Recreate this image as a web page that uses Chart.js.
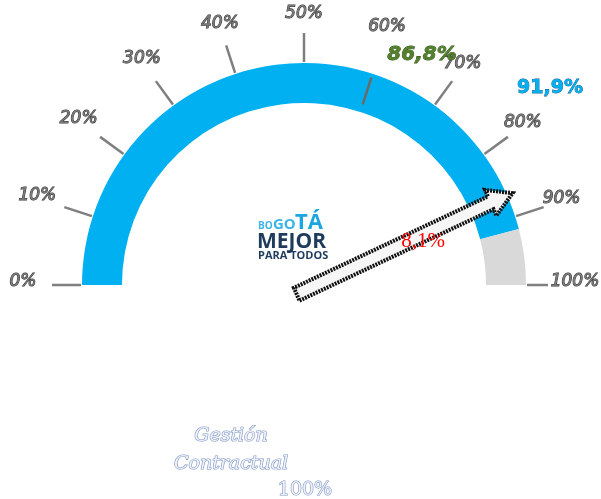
<!DOCTYPE html>
<html><head><meta charset="utf-8">
<script src="https://cdn.jsdelivr.net/npm/chart.js@4/dist/chart.umd.min.js"></script>
<style>html,body{margin:0;padding:0;background:#fff}#wrap{width:601px;height:499px;position:relative}</style>
</head><body><div id="wrap"><canvas id="c"></canvas></div>
<script>
const categories = ['Cumplido', 'Pendiente'];
const gaugeValues = [91.9, 8.1];
const needleValue = 86.8;
const tickValues = [0, 10, 20, 30, 40, 50, 60, 70, 80, 90, 100];
const tickLabels = ['0%', '10%', '20%', '30%', '40%', '50%', '60%', '70%', '80%', '90%', '100%'];
const valueLabels = ['86,8%', '91,9%', '8,1%'];
const titleLines = ['Gestión', 'Contractual', '100%'];

function angleFor(v) { return Math.PI + (v / 100) * Math.PI; }

const gaugePlugin = {
  id: 'gaugeDeco',
  afterDatasetsDraw(chart) {
    const ctx = chart.ctx;
    const arc = chart.getDatasetMeta(0).data[0];
    const cx = arc.x, cy = arc.y, R = arc.outerRadius;
    ctx.save();
    // ticks
    tickValues.forEach((v, i) => {
      const a = angleFor(v);
      let r1 = R + 1, r2 = R + 30;
      if (i === 6) { r1 = R - 32; r2 = R - 4; }
      if (i === tickValues.length - 1) { r2 = R + 22; }
      ctx.strokeStyle = i === 6 ? '#6a6a6a' : '#7f7f7f';
      ctx.lineWidth = 2.5;
      ctx.beginPath();
      ctx.moveTo(cx + r1 * Math.cos(a), cy + r1 * Math.sin(a));
      ctx.lineTo(cx + r2 * Math.cos(a), cy + r2 * Math.sin(a));
      ctx.stroke();
    });
    // tick labels
    ctx.font = 'oblique 17px "DejaVu Sans", sans-serif';
    ctx.textAlign = 'center';
    ctx.textBaseline = 'middle';
    tickValues.forEach((v, i) => {
      const a = angleFor(v);
      const c = Math.cos(a);
      const r = 268 + (c < 0 ? 13 * Math.abs(c) : 3 * Math.abs(c));
      const x = cx + r * Math.cos(a), y = cy + r * Math.sin(a) - 3;
      ctx.lineWidth = 1;
      ctx.strokeStyle = '#333';
      ctx.strokeText(tickLabels[i], x, y);
      ctx.fillStyle = '#7a7a7a';
      ctx.fillText(tickLabels[i], x, y);
    });
    // needle arrow
    const na = angleFor(needleValue);
    const tipR = R + 6, tailR = -8;
    const ux = Math.cos(na), uy = Math.sin(na);
    const px = -uy, py = ux;
    const tx = cx + tailR * ux, ty = cy + tailR * uy + 6;
    const hx = cx + tipR * ux, hy = cy + tipR * uy;
    const headLen = 24, shaftW = 7, headW = 14;
    const bx = hx - headLen * ux, by = hy - headLen * uy;
    ctx.beginPath();
    ctx.moveTo(tx + px * shaftW, ty + py * shaftW);
    ctx.lineTo(bx + px * shaftW, by + py * shaftW);
    ctx.lineTo(bx + px * headW, by + py * headW);
    ctx.lineTo(hx, hy);
    ctx.lineTo(bx - px * headW, by - py * headW);
    ctx.lineTo(bx - px * shaftW, by - py * shaftW);
    ctx.lineTo(tx - px * shaftW, ty - py * shaftW);
    ctx.closePath();
    ctx.fillStyle = '#f6f6f6';
    ctx.fill();
    ctx.setLineDash([2, 1]);
    ctx.lineWidth = 4;
    ctx.strokeStyle = '#111';
    ctx.stroke();
    ctx.setLineDash([]);
    // value labels
    ctx.textAlign = 'center';
    ctx.font = 'oblique bold 20px "DejaVu Sans", sans-serif';
    ctx.lineWidth = 0.8; ctx.strokeStyle = '#2f4a1a';
    ctx.strokeText(valueLabels[0], 422, 55);
    ctx.fillStyle = '#53802b';
    ctx.fillText(valueLabels[0], 422, 55);
    ctx.font = 'bold 19px "DejaVu Sans", sans-serif';
    ctx.strokeStyle = '#1a5b8a';
    ctx.strokeText(valueLabels[1], 550, 88);
    ctx.fillStyle = '#00b0f0';
    ctx.fillText(valueLabels[1], 550, 88);
    ctx.font = '21px "Liberation Serif", "Times New Roman", serif';
    ctx.fillStyle = '#ff0000';
    ctx.fillText(valueLabels[2], 423, 241);
    // logo
    ctx.textAlign = 'left';
    ctx.textBaseline = 'alphabetic';
    ctx.fillStyle = '#3cb4e6';
    ctx.font = 'bold 10px "Open Sans", sans-serif';
    ctx.fillText('BO', 258, 229);
    ctx.font = 'bold 15px "Open Sans", sans-serif';
    ctx.fillText('GO', 273, 229);
    ctx.fillStyle = '#1ba6e0';
    ctx.font = 'bold 22px "Open Sans", sans-serif';
    ctx.fillText('TÁ', 295, 229);
    ctx.fillStyle = '#1f3b5c';
    ctx.font = 'bold 21px "Open Sans", sans-serif';
    ctx.fillText('MEJOR', 257, 248, 74);
    ctx.font = 'bold 11px "Open Sans", sans-serif';
    ctx.fillText('PARA TODOS', 258, 259, 72);
    // bottom title
    ctx.textAlign = 'center';
    ctx.textBaseline = 'middle';
    ctx.lineWidth = 1.2;
    ctx.strokeStyle = '#7f96c6';
    ctx.fillStyle = '#eef1f8';
    ctx.font = 'italic 19px "DejaVu Serif", serif';
    ctx.strokeText(titleLines[0], 231, 436);
    ctx.fillText(titleLines[0], 231, 436);
    ctx.strokeText(titleLines[1], 231, 464);
    ctx.fillText(titleLines[1], 231, 464);
    ctx.font = '19px "DejaVu Serif", serif';
    ctx.strokeText(titleLines[2], 305, 490);
    ctx.fillText(titleLines[2], 305, 490);
    ctx.restore();
  }
};

new Chart(document.getElementById('c'), {
  type: 'doughnut',
  data: {
    labels: categories,
    datasets: [{
      data: gaugeValues,
      backgroundColor: ['#00b0f0', '#d9d9d9'],
      borderWidth: 0
    }]
  },
  options: {
    responsive: true,
    maintainAspectRatio: false,
    animation: false,
    rotation: -90,
    circumference: 180,
    cutout: '82%',
    layout: { padding: { left: 82, right: 75, top: 63, bottom: 214 } },
    plugins: { legend: { display: false }, tooltip: { enabled: false } }
  },
  plugins: [gaugePlugin]
});
</script>
</body></html>
